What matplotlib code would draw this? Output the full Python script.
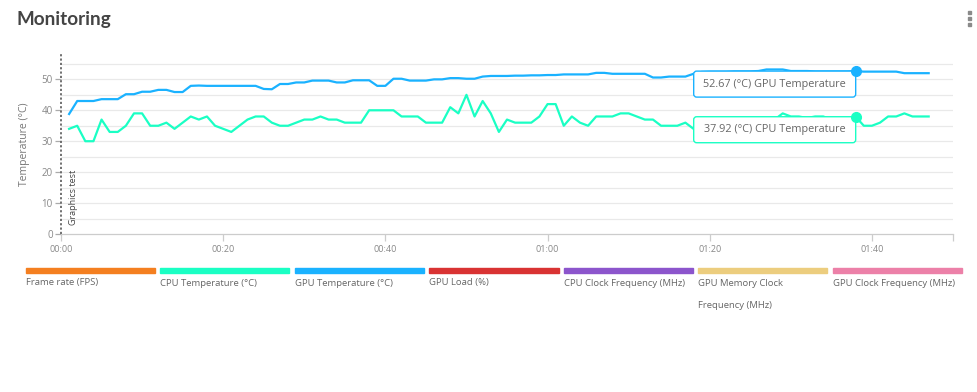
import numpy as np
import matplotlib
matplotlib.use("Agg")
import matplotlib.pyplot as plt
from matplotlib.patches import FancyBboxPatch, Rectangle, Circle
from matplotlib.transforms import Affine2D

# samples, one per second
t = list(range(1, 108))

cpu_temp = [34, 35, 30, 30, 37, 33, 33, 35, 39, 39, 35, 35, 36, 34, 36, 38, 37, 38, 35, 34,
            33, 35, 37, 38, 38, 36, 35, 35, 36, 37, 37, 38, 37, 37, 36, 36, 36, 40, 40, 40,
            40, 38, 38, 38, 36, 36, 36, 41, 39, 45, 38, 43, 39, 33, 37, 36, 36, 36, 38, 42,
            42, 35, 38, 36, 35, 38, 38, 38, 39, 39, 38, 37, 37, 35, 35, 35, 36, 34, 35, 35,
            36, 36, 37, 37, 36, 37, 37, 37, 39, 38, 38, 37.5, 38, 38, 37, 36, 36, 37.92, 35, 35,
            36, 38, 38, 39, 38, 38, 38]

gpu_temp = [38.8, 43.0, 43.0, 43.0, 43.6, 43.6, 43.6, 45.2, 45.2, 46.0, 46.0, 46.6, 46.6, 45.9, 45.9,
            47.9, 48.0, 47.9, 47.9, 47.9, 47.9, 47.9, 47.9, 47.9, 46.9, 46.8, 48.5, 48.5, 49.0, 49.0,
            49.6, 49.6, 49.6, 49.0, 49.0, 49.7, 49.7, 49.7, 47.9, 47.9, 50.2, 50.2, 49.6, 49.6, 49.6,
            50.0, 50.0, 50.4, 50.4, 50.2, 50.2, 50.9, 51.1, 51.1, 51.1, 51.2, 51.2, 51.3, 51.3, 51.4,
            51.4, 51.6, 51.6, 51.6, 51.6, 52.1, 52.1, 51.8, 51.8, 51.8, 51.8, 51.8, 50.6, 50.6, 50.9,
            50.9, 50.9, 51.8, 52.4, 52.5, 52.5, 52.5, 52.6, 52.6, 52.6, 52.7, 53.2, 53.2, 53.2, 52.7,
            52.7, 52.7, 52.6, 52.6, 52.6, 52.6, 52.6, 52.67, 52.5, 52.5, 52.5, 52.5, 52.5, 52.0, 52.0,
            52.0, 52.0]

hover_t = 98
series_names = ["Frame rate (FPS)", "CPU Temperature (\u00b0C)", "GPU Temperature (\u00b0C)",
                "GPU Load (%)", "CPU Clock Frequency (MHz)", "GPU Memory Clock\nFrequency (MHz)",
                "GPU Clock Frequency (MHz)"]
series_colors = ["#f47f20", "#1affc4", "#1ab2ff", "#d93333", "#8c55cc", "#eccd7e", "#ec80a8"]
x_ticks = [0, 20, 40, 60, 80, 100]
x_labels = ["00:00", "00:20", "00:40", "01:00", "01:20", "01:40"]

plt.rcParams['font.family'] = ['Open Sans', 'DejaVu Sans']

fig = plt.figure(figsize=(9.78, 3.92), dpi=100)
ax = fig.add_axes([61 / 978, 1 - 234 / 392, 892 / 978, 180 / 392])

ax.set_xlim(0, 110)
ax.set_ylim(0, 58.2)

# grid every 5, labels every 10
for v in np.arange(5, 58, 5):
    ax.axhline(v, color="#e9e9e9", lw=0.9, zorder=0)

ax.plot(t, gpu_temp, color=series_colors[2], lw=1.6, zorder=2)
ax.plot(t, cpu_temp, color=series_colors[1], lw=1.6, zorder=2)

for s in ["top", "right", "left"]:
    ax.spines[s].set_visible(False)
ax.spines["bottom"].set_color("#cccccc")
ax.spines["bottom"].set_linewidth(0.9)

ax.set_xticks(x_ticks + [110])
ax.set_xticklabels(x_labels + [""])
ax.set_yticks([0, 10, 20, 30, 40, 50])
ax.tick_params(axis="x", colors="#cccccc", labelcolor="#888888", labelsize=6.5, length=5, width=0.9, pad=3)
ax.tick_params(axis="y", colors="#aaaaaa", labelcolor="#888888", labelsize=7, length=4, width=0.9, pad=2)
ax.set_ylabel("Temperature (\u00b0C)", color="#777777", fontsize=7.5, labelpad=8)

# graphics test marker
ax.axvline(0, color="#666666", lw=1.3, ls=(0, (1.2, 1.2)), zorder=3, clip_on=False)
ax.text(1.0, 2.8, "Graphics test", rotation=90, ha="left", va="bottom", fontsize=6.5, color="#444444")

# hover tooltips
i = t.index(hover_t)
for val, name, col in [(gpu_temp[i], "GPU Temperature", series_colors[2]),
                       (cpu_temp[i], "CPU Temperature", series_colors[1])]:
    ax.plot([hover_t], [val], "o", color=col, ms=7, zorder=6)
    px, py = ax.transData.transform((hover_t, val))
    tr = Affine2D().translate(px, py)
    box = FancyBboxPatch((-162, -26), 162, 26, boxstyle="round,pad=0,rounding_size=3",
                         fc="white", ec=col, lw=1.0, transform=tr, zorder=5)
    ax.add_artist(box)
    ax.text(-81, -13, "%.2f (\u00b0C) %s" % (val, name), transform=tr, ha="center", va="center",
            fontsize=7.8, color="#666666", zorder=6)

# title and menu dots
fig.text(16 / 978, 1 - 19 / 392, "Monitoring", fontsize=13.6, fontweight="bold", color="#444444",
         family="Lato", ha="left", va="center")
for k in range(3):
    fig.add_artist(Rectangle((968.3 / 978, 1 - (14 + 6 * k) / 392), 3.2 / 978, 3.2 / 392,
                             color="#8a8a8a", transform=fig.transFigure))

# legend bars
for k, (name, col) in enumerate(zip(series_names, series_colors)):
    x0 = 26 + 134.5 * k
    fig.add_artist(Rectangle((x0 / 978, 1 - 272.5 / 392), 129 / 978, 4.5 / 392, color=col,
                             transform=fig.transFigure))
    fig.text(x0 / 978, 1 - 278.5 / 392, name, fontsize=6.8, color="#666666", ha="left", va="top",
             linespacing=2.9)

fig.savefig("out.png", dpi=100)
